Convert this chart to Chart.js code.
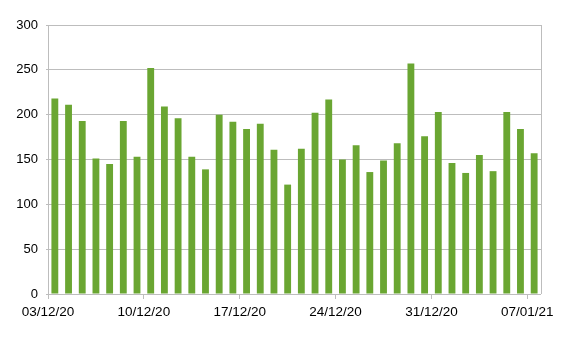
<!DOCTYPE html>
<html>
<head>
<meta charset="utf-8">
<script src="https://cdn.jsdelivr.net/npm/chart.js@4/dist/chart.umd.min.js"></script>
<style>
  html, body { margin: 0; padding: 0; background: #fff; }
  #wrap { width: 573px; height: 339px; }
</style>
</head>
<body>
<div id="wrap"><canvas id="barChart" width="573" height="339"></canvas></div>
<script>
const dates = [
  "03/12/20", "04/12/20", "05/12/20", "06/12/20", "07/12/20", "08/12/20", "09/12/20",
  "10/12/20", "11/12/20", "12/12/20", "13/12/20", "14/12/20", "15/12/20", "16/12/20",
  "17/12/20", "18/12/20", "19/12/20", "20/12/20", "21/12/20", "22/12/20", "23/12/20",
  "24/12/20", "25/12/20", "26/12/20", "27/12/20", "28/12/20", "29/12/20", "30/12/20",
  "31/12/20", "01/01/21", "02/01/21", "03/01/21", "04/01/21", "05/01/21", "06/01/21",
  "07/01/21"
];
const values = [
  218, 211, 193, 151, 145, 193, 153,
  252, 209, 196, 153, 139, 200, 192,
  184, 190, 161, 122, 162, 202, 217,
  150, 166, 136, 149, 168, 257, 176,
  203, 146, 135, 155, 137, 203, 184,
  157
];
const tickLabels = ["03/12/20", "10/12/20", "17/12/20", "24/12/20", "31/12/20", "07/01/21"];
const yTicks = [0, 50, 100, 150, 200, 250, 300];

const gridColor = '#bdbdbd';

// right-hand frame line of the plot area
const rightBorder = {
  id: 'rightBorder',
  afterDraw(chart) {
    const a = chart.chartArea, c = chart.ctx;
    c.save();
    c.strokeStyle = gridColor;
    c.lineWidth = 1;
    c.beginPath();
    c.moveTo(Math.round(a.right) + 0.5, a.top);
    c.lineTo(Math.round(a.right) + 0.5, a.bottom);
    c.stroke();
    c.restore();
  }
};

const ctx = document.getElementById('barChart').getContext('2d');

new Chart(ctx, {
  type: 'bar',
  data: {
    datasets: [{
      data: values.map((v, i) => ({ x: i + 0.5, y: v })),
      backgroundColor: '#6aa632',
      barPercentage: 0.5,
      categoryPercentage: 1
    }]
  },
  options: {
    responsive: false,
    animation: false,
    layout: { padding: { left: 0, right: 32, top: 25, bottom: 0 } },
    plugins: {
      legend: { display: false },
      tooltip: { enabled: false }
    },
    scales: {
      x: {
        type: 'linear',
        offset: false,
        min: 0,
        max: dates.length,
        afterBuildTicks: s => { s.ticks = tickLabels.map(l => ({ value: dates.indexOf(l) })); },
        afterFit: s => { s.height = 45; },
        ticks: {
          callback: v => dates[v],
          color: '#000',
          font: { family: 'Liberation Sans', size: 13.5 },
          maxRotation: 0,
          autoSkip: false,
          padding: 5
        },
        grid: { offset: false, drawOnChartArea: false, drawTicks: true, tickLength: 5, color: gridColor },
        border: { display: false }
      },
      y: {
        min: 0,
        max: 300,
        afterBuildTicks: s => { s.ticks = yTicks.map(v => ({ value: v })); },
        afterFit: s => { s.width = 48; },
        ticks: {
          color: '#000',
          font: { family: 'Liberation Sans', size: 13 },
          padding: 8
        },
        grid: { color: gridColor, tickLength: 2 },
        border: { color: gridColor }
      }
    }
  },
  plugins: [rightBorder]
});
</script>
</body>
</html>
